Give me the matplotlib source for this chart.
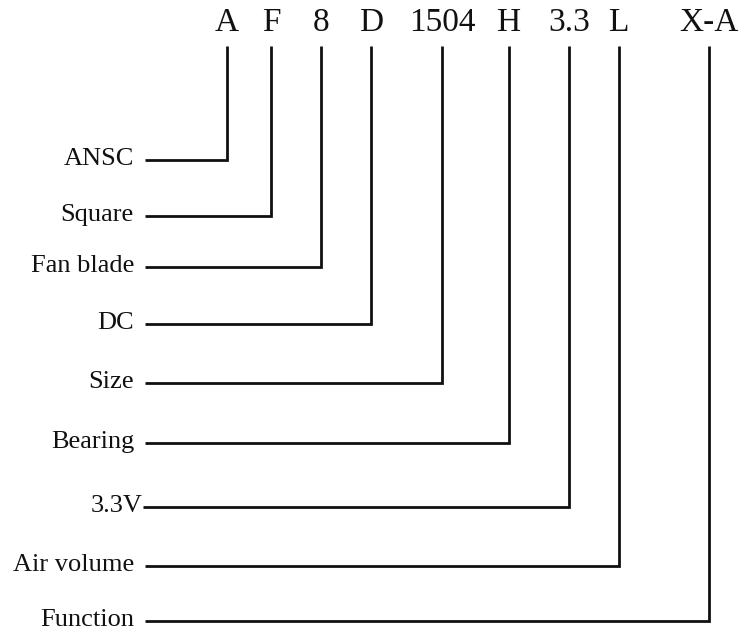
import matplotlib
matplotlib.use("Agg")
import matplotlib.pyplot as plt

codes = ["A", "F", "8", "D", "1504", "H", "3.3", "L", "X-A"]
labels = ["ANSC", "Square", "Fan blade", "DC", "Size", "Bearing", "3.3V", "Air volume", "Function"]
code_x = [227, 271, 321, 371, 442, 509, 569, 619, 709]
row_y = [160, 216, 267, 324, 383, 443, 507, 566, 621]
line_start = [145, 145, 145, 145, 145, 145, 143, 145, 145]

W, H = 743, 639
fig = plt.figure(figsize=(W / 100, H / 100), dpi=100)
ax = fig.add_axes([0, 0, 1, 1])
ax.set_xlim(0, W)
ax.set_ylim(H, 0)
ax.axis("off")

font = ["Liberation Serif", "DejaVu Serif"]
lw = 2.0
top_y = 46
ink = "#111111"

for c, x in zip(codes, code_x):
    ax.text(x, 23, c, ha="center", va="center", fontsize=24, family=font, color=ink)

for lab, x, y, xs in zip(labels, code_x, row_y, line_start):
    ax.plot([xs, x, x], [y, y, top_y], color=ink, lw=lw, solid_joinstyle="miter", solid_capstyle="butt")
    ax.text(xs - 11 if lab != "3.3V" else xs, y - 1, lab, ha="right", va="center", fontsize=19, family=font, color=ink)

fig.savefig("out.png", dpi=100)
